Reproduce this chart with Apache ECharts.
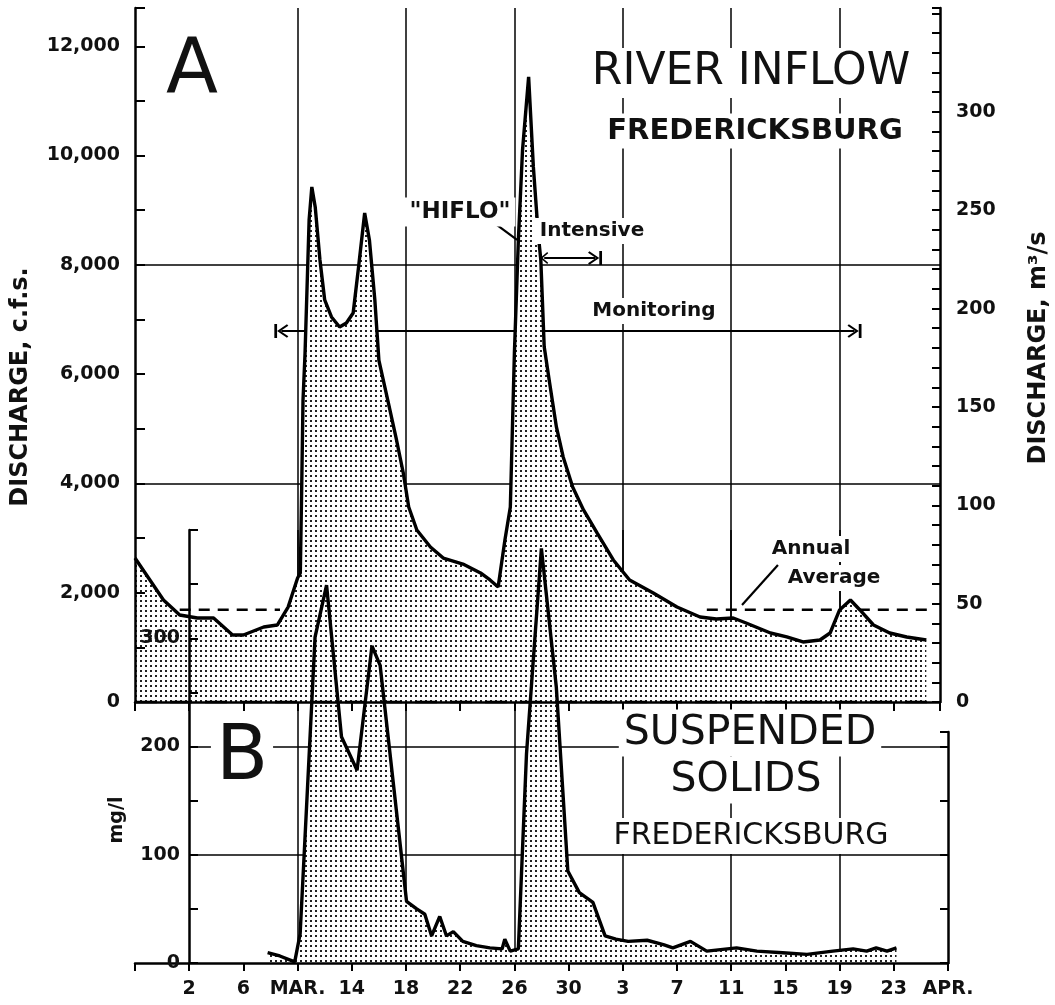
<!DOCTYPE html>
<html>
<head>
<meta charset="utf-8">
<script src="https://cdn.jsdelivr.net/npm/echarts@6/dist/echarts.min.js"></script>
<style>
html, body { margin: 0; background: #fff; }
#chart { width: 1055px; height: 1005px; }
</style>
</head>
<body>
<div id="chart"></div>
<script>
// day 0 = Feb 26, one unit = one day
var flowDays = [0, 0.6, 2.1, 3.3, 4.6, 5.8, 7.2, 8.0, 9.5, 10.5, 11.3, 12.0, 12.2, 12.3, 12.4, 12.55, 12.85, 13.05,
  13.3, 13.65, 14.0, 14.5, 15.1, 15.6, 16.1, 16.5, 16.95, 17.3, 17.7, 18.0, 18.6, 19.3, 19.8, 20.2, 20.8, 21.8,
  22.75, 24.2, 25.5, 26.2, 26.8, 27.3, 27.7, 28.0, 28.3, 28.6, 29.05, 29.4, 29.75, 29.95, 30.2, 30.6, 31.1, 31.6,
  32.3, 33.1, 34.1, 35.3, 36.5, 38.25, 40.0, 41.7, 42.9, 44.15, 45.1, 46.9, 48.1, 49.3, 50.55, 51.3, 52.0, 52.8,
  53.5, 54.5, 55.7, 56.95, 58.4];
var flowCfs = [2635, 2416, 1867, 1592, 1537, 1537, 1226, 1226, 1372, 1409, 1738, 2269, 2360, 3880, 5527, 6387, 8821, 9425,
  9059, 8089, 7357, 7046, 6863, 6936, 7119, 7961, 8949, 8455, 7357, 6250, 5582, 4795, 4191, 3569, 3148, 2837,
  2635, 2525, 2361, 2233, 2105, 2965, 3569, 6387, 8500, 10100, 11440, 9791, 8583, 8089, 6500, 5838, 5033, 4484,
  3935, 3514, 3093, 2599, 2233, 1995, 1739, 1556, 1519, 1537, 1446, 1263, 1190, 1098, 1135, 1263, 1684, 1867,
  1684, 1409, 1263, 1190, 1135];

var solidsDays = [9.8, 10.7, 11.8, 12.2, 12.5, 13.3, 14.15, 15.25, 16.4, 17.5, 18.1, 20.05, 20.8, 21.4, 21.9, 22.5,
  23.0, 23.5, 24.2, 25.2, 26.2, 27.1, 27.3, 27.7, 28.3, 28.9, 30.0, 31.1, 31.95, 32.8, 33.8, 34.7, 35.5, 36.4,
  37.8, 39.0, 39.7, 41.0, 42.2, 44.4, 45.9, 47.8, 49.6, 51.5, 53.0, 54.0, 54.7, 55.5, 56.2];
var solidsMgl = [9.5, 6.5, 1, 27, 101, 301, 349, 209, 178, 293, 275, 57, 50, 45, 25, 43,
  25, 29, 20, 16, 14, 13, 22, 11, 13, 193, 383, 255, 85, 65, 56, 25, 22, 20,
  21, 17, 14, 20, 11, 14, 11, 9.5, 8, 11, 13, 11, 14, 11, 14];

var tickDays = [0, 4, 8, 12, 16, 20, 24, 28, 32, 36, 40, 44, 48, 52, 56, 60];
var tickLabels = ['', '2', '6', 'MAR.', '14', '18', '22', '26', '30', '3', '7', '11', '15', '19', '23', 'APR.'];
var gridDays = [12, 20, 28, 36, 44, 52];
var flowGridValues = [4000, 8000];
var solidsGridValues = [100, 200];

var annualAverage = 1690;
var annualSpans = [[3.3, 10.7], [42.2, 58.5]];
var monitoringSpan = [10.8, 53.1], monitoringLevel = 6790;
var intensiveSpan = [30.2, 33.95], intensiveLevel = 8125;

var PX_PER_DAY = 13.55;
var FONT = 'DejaVu Sans';

// dotted screen used for both filled areas
function stipple() {
  var c = document.createElement('canvas');
  c.width = 5; c.height = 5;
  var g = c.getContext('2d');
  g.fillStyle = '#fff';
  g.fillRect(0, 0, 5, 5);
  g.fillStyle = '#222';
  g.fillRect(0, 0, 2, 2);
  return c;
}
var dots = { image: stipple(), repeat: 'repeat' };

function pairs(xs, ys) {
  return xs.map(function (x, i) { return [x, ys[i]]; });
}
function thousands(v) {
  return String(v).replace(/\B(?=(\d{3})+(?!\d))/g, ',');
}

var barArrow = 'path://M0,0 L10,0 L10,1.6 L0,1.6 Z M5,1.6 L9.8,7.4 L8.8,8.2 L5,3.6 L1.2,8.2 L0.2,7.4 Z';
var openArrow = 'path://M5,0 L9.8,5.8 L8.8,6.6 L5,2 L1.2,6.6 L0.2,5.8 Z';

var chart = echarts.init(document.getElementById('chart'));

var tickFont = { fontFamily: FONT, fontWeight: 'bold', fontSize: 19, color: '#111' };
var black = { color: '#000', width: 2.5 };
var gridLineStyle = { color: '#000', width: 1.5, type: 'solid' };

function gridMarks(xs, ys) {
  var d = [];
  xs.forEach(function (x) { d.push({ xAxis: x }); });
  ys.forEach(function (y) { d.push({ yAxis: y }); });
  return {
    silent: true, symbol: 'none', z: 0, animation: false,
    label: { show: false }, lineStyle: gridLineStyle, data: d
  };
}

function textEl(t, x, y, size, weight, extra) {
  var style = {
    text: t, x: x, y: y, fill: '#111',
    font: (weight || 'normal') + ' ' + size + 'px "' + FONT + '"',
    align: 'center', verticalAlign: 'middle',
    textAlign: 'center', textVerticalAlign: 'middle'
  };
  for (var k in (extra || {})) style[k] = extra[k];
  return { type: 'text', z: 20, style: style };
}
function boxed(t, x, y, size, weight) {
  return textEl(t, x, y, size, weight, { backgroundColor: '#fff', padding: [3, 5] });
}
function rotated(t, x, y, size) {
  var el = textEl(t, 0, 0, size, 'bold');
  el.x = x; el.y = y; el.rotation = Math.PI / 2;
  return el;
}

var flowTop = 12700;
var m3Top = 352.8;
var aWidth = 805;
var aMaxDay = aWidth / PX_PER_DAY;

var option = {
  animation: false,
  backgroundColor: '#fff',
  grid: [
    { left: 135, top: 8, width: aWidth, height: 694 },
    { left: 189, top: 530, width: 759, height: 433 },
    { left: 135, top: 530, width: 813, height: 433 },
    { left: 189, top: 732, width: 759, height: 231 }
  ],
  xAxis: [
    { gridIndex: 0, type: 'value', position: 'top', min: 0, max: aMaxDay, interval: 4, z: 5,
      axisLine: { lineStyle: black }, axisTick: { inside: true, length: 9, lineStyle: { width: 2, color: '#000' } },
      axisLabel: { show: false }, splitLine: { show: false } },
    { gridIndex: 1, type: 'value', min: 4, max: 60, interval: 4, show: false },
    { gridIndex: 2, type: 'value', position: 'bottom', min: 0, max: 60, interval: 4, z: 5,
      axisLine: { lineStyle: black }, axisTick: { inside: false, length: 8, lineStyle: { width: 2, color: '#000' } },
      axisLabel: Object.assign({ margin: 17, formatter: function (v) {
        var i = tickDays.indexOf(Math.round(v));
        return i < 0 ? '' : tickLabels[i];
      } }, tickFont),
      splitLine: { show: false } },
    { gridIndex: 3, type: 'value', min: 4, max: 60, show: false }
  ],
  yAxis: [
    { gridIndex: 0, type: 'value', position: 'left', min: 0, max: flowTop, interval: 2000, z: 5,
      axisLine: { show: true, lineStyle: black },
      axisTick: { inside: true, length: 10, lineStyle: { width: 2, color: '#000' } },
      minorTick: { show: true, splitNumber: 2, length: 10, lineStyle: { width: 2, color: '#000' } },
      axisLabel: Object.assign({ margin: 15, showMaxLabel: false, formatter: thousands }, tickFont),
      splitLine: { show: false } },
    { gridIndex: 0, type: 'value', position: 'right', min: 0, max: m3Top, interval: 50, z: 5,
      axisLine: { show: true, lineStyle: black },
      axisTick: { inside: true, length: 8, lineStyle: { width: 2, color: '#000' } },
      minorTick: { show: true, splitNumber: 5, length: 8, lineStyle: { width: 2, color: '#000' } },
      axisLabel: Object.assign({ margin: 16, showMaxLabel: false, formatter: function (v) { return v > 300 ? '' : String(v); } }, tickFont),
      splitLine: { show: false } },
    { gridIndex: 1, type: 'value', position: 'left', min: 0, max: 400, interval: 100, z: 5,
      axisLine: { show: true, lineStyle: black },
      axisTick: { inside: true, length: 9, lineStyle: { width: 2, color: '#000' } },
      minorTick: { show: true, splitNumber: 2, length: 9, lineStyle: { width: 2, color: '#000' } },
      axisLabel: Object.assign({ margin: 9, showMaxLabel: false }, tickFont),
      splitLine: { show: false } },
    { gridIndex: 2, type: 'value', min: 0, max: 400, show: false },
    { gridIndex: 3, type: 'value', position: 'right', min: 0, max: 231 / 1.0825, interval: 50, z: 5,
      axisLine: { show: true, lineStyle: black },
      axisTick: { inside: true, length: 8, lineStyle: { width: 2, color: '#000' } },
      axisLabel: { show: false }, splitLine: { show: false } }
  ],
  series: [
    // grid lines of panel A
    { type: 'line', xAxisIndex: 0, yAxisIndex: 0, z: 0, data: [[0, 0]], symbol: 'none', lineStyle: { width: 0 },
      markLine: gridMarks(gridDays, flowGridValues) },
    // grid lines of panel B
    { type: 'line', xAxisIndex: 1, yAxisIndex: 2, z: 0, data: [[4, 0]], symbol: 'none', lineStyle: { width: 0 },
      markLine: gridMarks(gridDays, solidsGridValues) },
    // annual average and annotation arrows, under the fill
    { type: 'line', xAxisIndex: 0, yAxisIndex: 0, z: 1, symbol: 'none', clip: false,
      data: [[annualSpans[0][0], annualAverage], [annualSpans[0][1], annualAverage]],
      lineStyle: { color: '#000', width: 2.5, type: [11, 8] } },
    { type: 'line', xAxisIndex: 0, yAxisIndex: 0, z: 1, symbol: 'none', clip: false,
      data: [[annualSpans[1][0], annualAverage], [annualSpans[1][1], annualAverage]],
      lineStyle: { color: '#000', width: 2.5, type: [11, 8] },
      markLine: {
        silent: true, z: 1, animation: false, label: { show: false },
        lineStyle: { color: '#000', width: 2.2, type: 'solid' },
        data: [
          [{ coord: [monitoringSpan[0], monitoringLevel], symbol: barArrow, symbolSize: [14, 14] },
           { coord: [monitoringSpan[1], monitoringLevel], symbol: barArrow, symbolSize: [14, 14] }],
          [{ coord: [intensiveSpan[0], intensiveLevel], symbol: openArrow, symbolSize: [12, 8] },
           { coord: [intensiveSpan[1], intensiveLevel], symbol: barArrow, symbolSize: [14, 14] }],
          [{ coord: [26.7, 8730], symbol: 'none' }, { coord: [28.2, 8455], symbol: 'none' }],
          [{ coord: [47.45, 2507], symbol: 'none' }, { coord: [44.8, 1775], symbol: 'none' }]
        ]
      } },
    // A: river inflow
    { type: 'line', name: 'River inflow', xAxisIndex: 0, yAxisIndex: 0, z: 2, symbol: 'none',
      data: pairs(flowDays, flowCfs),
      lineStyle: { color: '#000', width: 3.4 },
      areaStyle: { color: dots, opacity: 1 } },
    // B: suspended solids
    { type: 'line', name: 'Suspended solids', xAxisIndex: 1, yAxisIndex: 2, z: 3, symbol: 'none',
      data: pairs(solidsDays, solidsMgl),
      lineStyle: { color: '#000', width: 3.4 },
      areaStyle: { color: dots, opacity: 1 } },
    // zero line of panel A, dashed, on top
    { type: 'line', xAxisIndex: 0, yAxisIndex: 0, z: 4, symbol: 'none', clip: false,
      data: [[0, 0], [aMaxDay, 0]],
      lineStyle: { color: '#000', width: 2.5, type: [22, 13] } }
  ],
  graphic: [
    textEl('A', 192, 72, 76, 'normal'),
    boxed('RIVER INFLOW', 751, 73, 44, 'normal'),
    boxed('FREDERICKSBURG', 755, 131, 29, 'bold'),
    boxed('"HIFLO"', 460, 212, 23, 'bold'),
    boxed('Intensive', 592, 231, 20, 'bold'),
    boxed('Monitoring', 654, 311, 20, 'bold'),
    boxed('Annual', 811, 549, 20, 'bold'),
    boxed('Average', 834, 578, 20, 'bold'),
    boxed('B', 242, 759, 76, 'normal'),
    boxed('SUSPENDED', 750, 733, 41, 'normal'),
    boxed('SOLIDS', 746, 780, 41, 'normal'),
    boxed('FREDERICKSBURG', 751, 836, 30, 'normal'),
    rotated('DISCHARGE, c.f.s.', 21, 387, 24),
    rotated('DISCHARGE, m\u00b3/s', 1039, 348, 24),
    rotated('mg/l', 117, 820, 19)
  ]
};

chart.setOption(option);
</script>
</body>
</html>
